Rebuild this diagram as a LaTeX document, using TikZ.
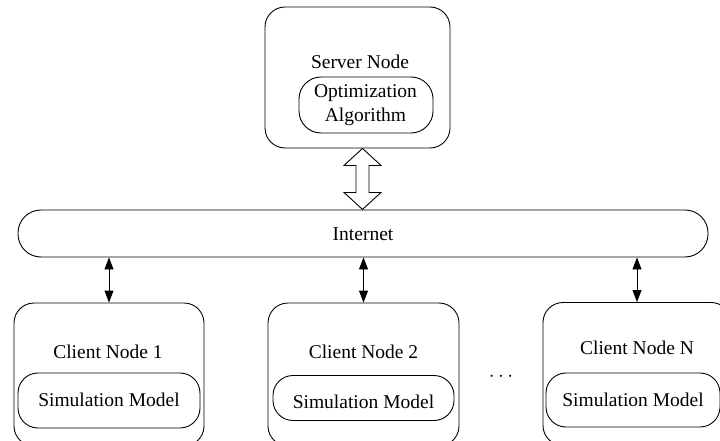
\documentclass[tikz,border=0pt]{standalone}
\usepackage{fontspec}
\setmainfont{Liberation Serif}
\usetikzlibrary{arrows.meta}
\begin{document}
\begin{tikzpicture}[x=1pt,y=-1pt,
  box/.style={draw, line width=0.9pt, rounded corners=20pt, inner sep=0pt},
  lbl/.style={inner sep=0pt, font=\fontsize{19.5}{24}\selectfont, align=center},
  link/.style={line width=0.9pt, {Triangle[length=12pt,width=9pt]}-{Triangle[length=12pt,width=9pt]}},
  hollow/.style={draw, line width=0.9pt, line join=miter}]
\useasboundingbox (0,0) rectangle (720,441);
\clip (0,0) rectangle (720,441);
% server
\node[box, minimum width=185pt, minimum height=141pt] (server) at (357.5,77.5) {};
\node[lbl] (serverlbl) at (360,62) {Server Node};
\node[box, rounded corners=22pt, minimum width=134pt, minimum height=56pt] (opt) at (366,105) {};
\node[lbl] (optlbl) at (365.5,105) {Optimization\\Algorithm};
% internet
\node[box, rounded corners=23pt, minimum width=690pt, minimum height=47pt] (inet) at (363,233.5) {};
\node[lbl] (inetlbl) at (363,234) {Internet};
% hollow double arrow
\path (server.south) ++(5,0) coordinate (hatop);
\draw[hollow] (hatop) -- ++(18.5,17) -- ++(-12,0) -- ++(0,27) -- ++(12,0) -- ++(-18.5,17)
  -- ++(-18.5,-17) -- ++(12,0) -- ++(0,-27) -- ++(-12,0) -- cycle;
% clients
\node[box, minimum width=190pt, minimum height=143pt] (c1) at (109,374.5) {};
\node[lbl] (c1lbl) at (108,352) {Client Node 1};
\node[box, minimum width=182pt, minimum height=55pt] (s1) at (109,400.5) {};
\node[lbl] (s1lbl) at (109,400) {Simulation Model};

\node[box, minimum width=191pt, minimum height=143pt] (c2) at (363.5,374.5) {};
\node[lbl] (c2lbl) at (363.5,352) {Client Node 2};
\node[box, minimum width=181pt, minimum height=45pt] (s2) at (363.5,398) {};
\node[lbl] (s2lbl) at (363.5,402) {Simulation Model};

\node[box, minimum width=188pt, minimum height=143pt] (cn) at (637,374) {};
\node[lbl] (cnlbl) at (637,348) {Client Node N};
\node[box, minimum width=174pt, minimum height=54pt] (sn) at (633,400) {};
\node[lbl] (snlbl) at (633,400) {Simulation Model};

\node[lbl] (dots) at (501,377) {$\cdots$};
% links
\draw[link] (inet.south -| c1.north) -- (c1.north);
\draw[link] (inet.south -| c2.north) -- (c2.north);
\draw[link] (inet.south -| cn.north) -- (cn.north);
\end{tikzpicture}
\end{document}
